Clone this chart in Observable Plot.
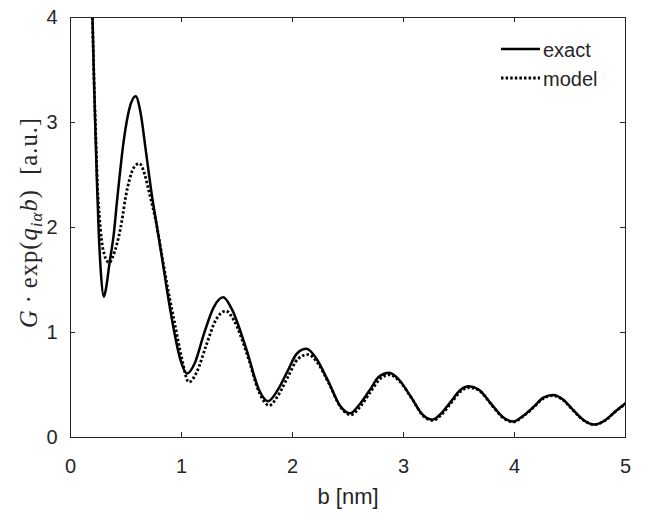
<!DOCTYPE html>
<html>
<head>
<meta charset="utf-8">
<script src="https://cdn.jsdelivr.net/npm/d3@7"></script>
<script src="https://cdn.jsdelivr.net/npm/@observablehq/plot@0.6"></script>
<style>
  html, body { margin: 0; padding: 0; background: #fff; }
  svg { display: block; }
</style>
</head>
<body>
<div id="chart"></div>
<script>
// ---- data ----
const bExact = [0.198, 0.212, 0.225, 0.24, 0.255, 0.275, 0.30, 0.32, 0.35, 0.39, 0.42, 0.48, 0.53, 0.587,
  0.63, 0.68, 0.73, 0.78, 0.826, 0.87, 0.925, 0.985, 1.05, 1.12, 1.20, 1.29, 1.375, 1.45, 1.585, 1.70,
  1.78, 1.86, 1.95, 2.04, 2.125, 2.21, 2.32, 2.43, 2.52, 2.60, 2.695, 2.78, 2.87, 2.96, 3.065, 3.17,
  3.26, 3.34, 3.425, 3.51, 3.59, 3.68, 3.79, 3.90, 3.99, 4.07, 4.17, 4.26, 4.345, 4.44, 4.53, 4.63,
  4.72, 4.81, 4.91, 5.00];
const gExact = [4.00, 3.40, 2.90, 2.38, 1.94, 1.55, 1.34, 1.42, 1.65, 1.94, 2.26, 2.83, 3.13, 3.25,
  3.10, 2.72, 2.33, 2.00, 1.70, 1.40, 1.06, 0.76, 0.61, 0.71, 0.98, 1.24, 1.335, 1.23, 0.84, 0.45,
  0.345, 0.44, 0.62, 0.80, 0.845, 0.76, 0.54, 0.30, 0.23, 0.31, 0.45, 0.58, 0.616, 0.55, 0.39, 0.22,
  0.17, 0.23, 0.34, 0.45, 0.487, 0.455, 0.32, 0.19, 0.152, 0.20, 0.29, 0.38, 0.405, 0.36, 0.26, 0.16,
  0.124, 0.16, 0.25, 0.327];

const bModel = [0.198, 0.212, 0.227, 0.243, 0.26, 0.28, 0.305, 0.33, 0.35, 0.38, 0.42, 0.45, 0.47, 0.495,
  0.53, 0.57, 0.62, 0.67, 0.705, 0.775, 0.826, 0.88, 0.94, 1.00, 1.066, 1.14, 1.22, 1.31, 1.40, 1.47,
  1.595, 1.70, 1.79, 1.87, 1.96, 2.05, 2.14, 2.22, 2.33, 2.44, 2.525, 2.61, 2.70, 2.79, 2.875, 2.965,
  3.07, 3.175, 3.265, 3.345, 3.43, 3.515, 3.595, 3.685, 3.79, 3.90, 3.99, 4.07, 4.17, 4.26, 4.345, 4.44,
  4.53, 4.63, 4.72, 4.81, 4.91, 5.00];
const gModel = [4.00, 3.40, 2.90, 2.40, 2.11, 1.88, 1.74, 1.68, 1.665, 1.72, 1.85, 1.99, 2.11, 2.28,
  2.45, 2.57, 2.61, 2.50, 2.35, 2.03, 1.72, 1.40, 1.08, 0.765, 0.527, 0.63, 0.87, 1.12, 1.205, 1.12,
  0.78, 0.43, 0.305, 0.40, 0.58, 0.75, 0.79, 0.72, 0.51, 0.28, 0.215, 0.295, 0.43, 0.56, 0.597, 0.535,
  0.38, 0.21, 0.163, 0.22, 0.33, 0.44, 0.475, 0.445, 0.315, 0.185, 0.148, 0.195, 0.285, 0.372, 0.398, 0.355,
  0.256, 0.158, 0.122, 0.158, 0.247, 0.322];

const xTicks = [0, 1, 2, 3, 4, 5];
const yTicks = [0, 1, 2, 3, 4];
const seriesNames = ["exact", "model"];
const xLabel = "b [nm]";

// ---- build tables ----
const exact = bExact.map((b, i) => ({b, g: gExact[i]}));
const model = bModel.map((b, i) => ({b, g: gModel[i]}));

const W = 650, H = 531, mL = 70, mR = 25, mT = 17, mB = 94;
const innerW = W - mL - mR, innerH = H - mT - mB;
const axisColor = "#262626";
const tickLen = 5;
const dotted = "2.5,2.1";

const chart = Plot.plot({
  width: W, height: H,
  marginLeft: mL, marginRight: mR, marginTop: mT, marginBottom: mB,
  style: {fontFamily: "'Liberation Sans', Arial, sans-serif", background: "white", color: axisColor, overflow: "visible"},
  x: {domain: [0, 5], label: null},
  y: {domain: [0, 4], label: null},
  marks: [
    Plot.line(model, {x: "b", y: "g", stroke: "black", strokeWidth: 2.8, strokeDasharray: dotted, strokeLinecap: "butt", curve: "monotone-x", clip: true}),
    Plot.line(exact, {x: "b", y: "g", stroke: "black", strokeWidth: 2.5, curve: "monotone-x", clip: true}),
    Plot.tickX(xTicks, {x: d => d, insetTop: innerH - tickLen, stroke: axisColor}),
    Plot.tickX(xTicks, {x: d => d, insetBottom: innerH - tickLen, stroke: axisColor}),
    Plot.tickY(yTicks, {y: d => d, insetRight: innerW - tickLen, stroke: axisColor}),
    Plot.tickY(yTicks, {y: d => d, insetLeft: innerW - tickLen, stroke: axisColor}),
    Plot.frame({stroke: axisColor}),
    Plot.axisX(xTicks, {tickSize: 0, tickPadding: 21, fontSize: 20, fill: axisColor, label: null, tickFormat: d => String(d)}),
    Plot.axisY(yTicks, {tickSize: 0, tickPadding: 13, fontSize: 20, fill: axisColor, label: null, tickFormat: d => String(d)}),
    Plot.text([xLabel], {frameAnchor: "bottom", dy: 66, fontSize: 22, fill: axisColor, text: d => d})
  ]
});

document.getElementById("chart").appendChild(chart);

// ---- y-axis label with math formatting ----
const svg = d3.select(chart);
const yl = svg.append("text")
  .attr("transform", "translate(37,328) rotate(-90)")
  .attr("text-anchor", "start")
  .attr("textLength", 210)
  .attr("lengthAdjust", "spacing")
  .attr("fill", axisColor)
  .style("font-family", "'Liberation Serif', 'DejaVu Serif', serif")
  .style("font-size", "24.5px");
yl.append("tspan").attr("font-style", "italic").text("G");
yl.append("tspan").text("\u2009·\u2009exp(");
yl.append("tspan").attr("font-style", "italic").text("q");
yl.append("tspan").attr("font-style", "italic").attr("font-size", "17px").attr("dy", 5).text("iα");
yl.append("tspan").attr("font-style", "italic").attr("dy", -5).text("b");
yl.append("tspan").text(")\u00a0\u00a0[a.u.]");

// ---- legend ----
const legend = svg.append("g").attr("class", "legend");
const legendRows = [
  {name: seriesNames[0], dash: null, y: 49},
  {name: seriesNames[1], dash: dotted, y: 78}
];
legendRows.forEach(r => {
  const ln = legend.append("line")
    .attr("x1", 501).attr("x2", 540).attr("y1", r.y).attr("y2", r.y)
    .attr("stroke", "black").attr("stroke-width", r.dash ? 2.8 : 2.5);
  if (r.dash) ln.attr("stroke-dasharray", r.dash);
  legend.append("text")
    .attr("x", 543).attr("y", r.y + 8)
    .attr("text-anchor", "start")
    .attr("fill", axisColor)
    .style("font-family", "'Liberation Sans', Arial, sans-serif")
    .style("font-size", "20px")
    .text(r.name);
});
</script>
</body>
</html>
